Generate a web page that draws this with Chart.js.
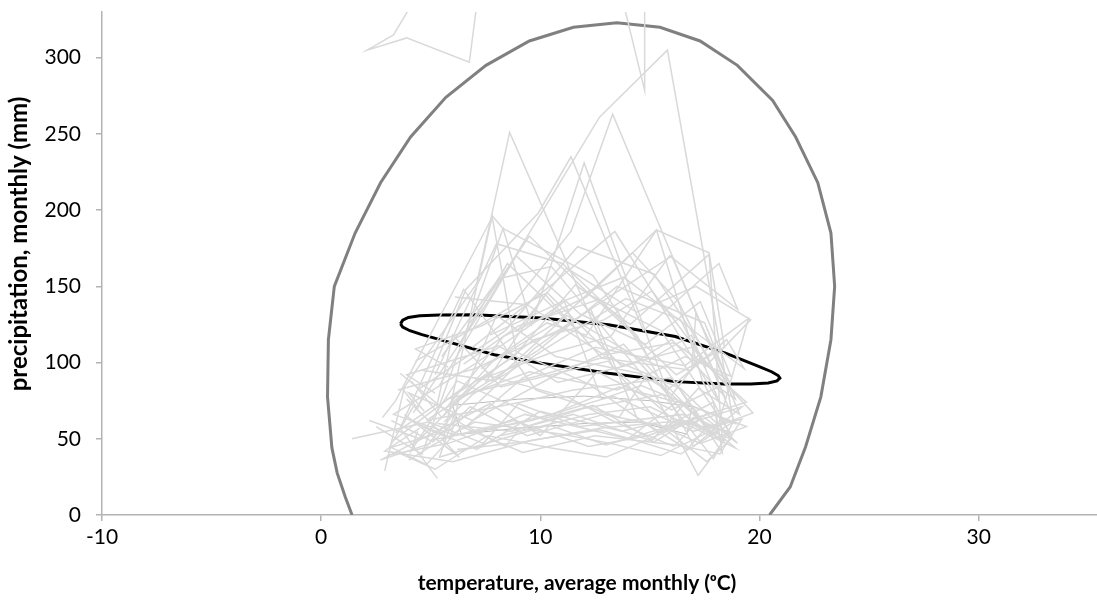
<!DOCTYPE html>
<html>
<head>
<meta charset="utf-8">
<script src="https://cdn.jsdelivr.net/npm/chart.js@4.4.0/dist/chart.umd.min.js"></script>
<style>
  body { margin: 0; background: #fff; }
</style>
</head>
<body>
<canvas id="climateChart" width="1097" height="601"></canvas>
<script>
// axis ticks
var xTicks = [-10, 0, 10, 20, 30];
var yTicks = [0, 50, 100, 150, 200, 250, 300];

// outer envelope (grey, thick)
var envelopeTemp   = [1.41, 1.10, 0.73, 0.49, 0.29, 0.33, 0.6, 1.55, 2.71, 4.08, 5.69, 7.52, 9.50, 11.51, 13.49, 15.46, 17.29, 18.99, 20.6, 21.65, 22.66, 23.26, 23.43, 23.26, 22.8, 22.1, 21.4, 20.46];
var envelopePrecip = [0, 11.8, 27.6, 44, 77.5, 115, 150, 185, 218, 248, 274, 295, 311, 320, 323, 320, 311, 295, 272, 248, 218, 185, 150, 115, 77.5, 44.6, 18.4, 0];

// inner ellipse (black)
var ellipseTemp   = [3.62, 3.72, 3.98, 4.5, 5.4, 6.99, 10.05, 13.11, 16.16, 18.45, 19.99, 20.55, 20.85, 20.93, 20.8, 20.4, 19.6, 18.4, 16.16, 13.11, 10.05, 7.9, 5.46, 4.6, 4.05, 3.72, 3.62];
var ellipsePrecip = [125.4, 127.8, 129.6, 130.7, 131.2, 131.3, 129.2, 124.8, 117.1, 106.2, 97.4, 94.0, 91.5, 89.8, 88.0, 86.6, 85.9, 86.0, 87.5, 93.0, 99.6, 105.1, 114.9, 118.3, 120.9, 123.3, 125.4];

// monthly observations, one row per year (Jan..Dec)
var yearTemps = [
  [3.2, 5.1, 6.8, 9.4, 12.9, 15.7, 17.9, 18.2, 14.6, 11.2, 7.9, 4.6],
  [2.9, 3.8, 7.1, 8.6, 13.3, 16.2, 18.6, 17.4, 15.3, 12.1, 8.3, 5.7],
  [4.4, 4.1, 6.2, 10.1, 12.4, 15.1, 17.2, 19.1, 16.0, 10.8, 7.0, 3.5],
  [1.4, 4.9, 7.4, 9.0, 11.8, 16.5, 18.3, 17.7, 14.1, 11.6, 8.8, 6.0],
  [5.3, 3.6, 6.5, 9.8, 13.6, 14.9, 17.6, 18.8, 15.8, 12.7, 7.6, 4.2],
  [3.9, 5.6, 7.8, 8.9, 12.2, 15.4, 19.2, 17.0, 14.4, 11.0, 8.0, 5.2],
  [4.8, 6.1, 5.4, 10.4, 13.0, 16.8, 18.0, 19.5, 16.6, 12.5, 9.2, 6.6],
  [2.5, 4.6, 8.3, 9.6, 12.0, 15.9, 17.3, 18.5, 13.3, 11.4, 8.6, 4.3],
  [6.2, 3.3, 7.0, 11.1, 12.8, 14.6, 18.9, 17.9, 15.1, 12.9, 9.7, 5.9],
  [3.0, 5.8, 7.2, 9.3, 14.0, 16.3, 17.8, 19.7, 16.9, 13.7, 10.3, 7.5],
  [4.7, 4.0, 6.9, 10.6, 13.8, 17.1, 18.4, 17.2, 14.9, 10.5, 8.1, 5.5],
  [3.6, 6.4, 8.4, 9.1, 11.5, 15.2, 17.0, 18.7, 15.5, 12.3, 9.5, 6.8],
  [5.0, 2.7, 7.7, 10.0, 12.6, 16.0, 18.1, 18.9, 17.5, 13.5, 9.9, 4.9],
  [3.4, 5.3, 6.0, 8.2, 13.1, 15.6, 19.4, 18.0, 16.3, 14.2, 10.8, 7.3],
  [4.2, 3.1, 5.9, 9.7, 12.3, 14.4, 16.7, 17.6, 15.7, 11.9, 8.5, 6.3],
  [2.2, 4.5, 7.5, 11.3, 13.4, 16.1, 17.4, 19.0, 16.4, 13.0, 10.1, 5.7],
  [4.1, 5.5, 7.9, 10.3, 12.1, 15.3, 17.7, 18.4, 16.2, 12.6, 9.0, 6.5],
  [3.7, 4.4, 6.6, 9.9, 11.4, 14.7, 18.15, 19.0, 15.9, 13.2, 10.4, 7.1],
  [5.6, 6.9, 8.7, 10.9, 13.9, 16.4, 17.5, 19.6, 17.1, 14.4, 11.2, 8.9],
  [2.8, 3.4, 7.83, 8.29, 12.4, 15.0, 16.9, 18.2, 15.4, 13.4, 10.6, 6.9],
  [4.6, 5.9, 6.3, 9.5, 13.5, 16.6, 18.7, 17.3, 14.8, 11.8, 8.9, 5.4],
  [3.3, 6.7, 8.0, 10.7, 14.5, 15.8, 18.5, 19.3, 16.7, 13.8, 11.0, 7.7],
  [5.8, 4.3, 7.3, 10.2, 12.8, 16.9, 17.1, 18.6, 16.1, 12.9, 9.4, 6.1],
  [4.0, 5.0, 7.0, 11.0, 13.2, 15.5, 17.9, 18.9, 15.0, 12.2, 10.0, 8.2],
  [3.1, 4.8, 6.4, 9.2, 12.5, 16.2, 18.2, 19.2, 17.0, 13.3, 9.6, 5.0],
  [5.2, 3.9, 8.1, 10.8, 14.2, 16.0, 18.4, 17.6, 15.2, 11.7, 8.4, 4.5],
  [3.5, 5.2, 7.6, 10.5, 13.0, 15.8, 17.6, 18.7, 16.5, 12.8, 9.3, 6.2],
  [4.5, 2.9, 6.0, 9.6, 12.7, 16.4, 18.8, 17.9, 15.6, 12.0, 8.7, 5.3],
  [5.7, 4.2, 7.1, 10.0, 13.7, 15.2, 17.3, 19.4, 16.8, 13.6, 10.5, 7.0],
  [3.8, 6.3, 5.5, 8.8, 12.2, 14.9, 18.0, 18.3, 16.0, 11.5, 9.1, 4.8]
];
var yearPrecip = [
  [62, 48, 71, 52, 66, 58, 74, 49, 102, 131, 88, 95],
  [29, 84, 152, 251, 97, 61, 55, 88, 187, 143, 117, 70],
  [55, 42, 88, 63, 72, 49, 83, 66, 170, 121, 96, 82],
  [50, 61, 47, 73, 58, 66, 49, 171, 125, 151, 104, 78],
  [24, 57, 148, 82, 64, 93, 58, 62, 305, 261, 140, 67],
  [76, 52, 196, 107, 86, 54, 71, 45, 118, 165, 178, 92],
  [45, 67, 38, 59, 46, 62, 53, 129, 98, 110, 90, 58],
  [58, 40, 188, 125, 231, 77, 103, 85, 263, 186, 136, 101],
  [52, 66, 99, 140, 76, 85, 60, 94, 147, 128, 115, 73],
  [39, 47, 54, 66, 50, 75, 57, 67, 110, 98, 146, 87],
  [68, 80, 62, 91, 112, 58, 49, 26, 88, 163, 155, 104],
  [93, 60, 45, 57, 66, 48, 64, 53, 121, 144, 183, 126],
  [47, 36, 73, 52, 94, 69, 84, 76, 126, 150, 108, 63],
  [54, 73, 118, 84, 101, 57, 74, 92, 140, 172, 127, 96],
  [71, 44, 56, 109, 135, 64, 43, 58, 96, 118, 165, 112],
  [62, 50, 92, 77, 61, 45, 65, 47, 83, 104, 92, 76],
  [88, 64, 102, 126, 118, 187, 172, 110, 92, 141, 124, 99],
  [83, 70, 148, 198, 235, 121, 165, 135, 170, 117, 106, 88],
  [61, 79, 95, 115, 142, 128, 97, 128, 150, 133, 162, 120],
  [64, 75, 196, 188, 157, 102, 118, 73, 140, 186, 152, 110],
  [58, 50, 77, 94, 82, 104, 91, 140, 112, 132, 170, 85],
  [49, 86, 131, 104, 93, 82, 115, 96, 124, 156, 140, 118],
  [97, 109, 124, 145, 103, 95, 132, 88, 113, 105, 138, 143],
  [36, 45, 61, 53, 47, 39, 56, 44, 71, 66, 58, 52],
  [45, 33, 58, 41, 52, 46, 40, 63, 55, 78, 62, 49],
  [80, 92, 111, 87, 99, 115, 78, 105, 158, 176, 121, 83],
  [41, 30, 52, 44, 38, 55, 35, 50, 62, 57, 48, 43],
  [57, 42, 35, 49, 56, 40, 61, 37, 79, 70, 55, 60],
  [52, 61, 43, 68, 55, 60, 47, 58, 72, 84, 66, 54],
  [66, 38, 50, 62, 45, 52, 68, 41, 90, 82, 74, 62]
];

// wet spells going off the top of the plot
var spellTemps  = [[5.6, 3.3, 2.1, 3.9, 6.76, 7.6], [12.7, 14.76, 14.76]];
var spellPrecip = [[370, 315, 305, 313, 297, 390], [400, 278.6, 420]];

// long-term monthly mean loop
var meanTemp   = [6.0, 6.4, 9.0, 12.0, 14.5, 16.7, 16.9, 15.0, 12.0, 9.0, 6.0];
var meanPrecip = [72, 53, 57, 60, 61, 53, 71, 75, 78, 76, 72];

function toPoints(xs, ys) {
    var pts = [];
    for (var i = 0; i < xs.length; i++) {
        pts.push({ x: xs[i], y: ys[i] });
    }
    return pts;
}

var datasets = [];
for (var i = 0; i < yearTemps.length; i++) {
    datasets.push({
        data: toPoints(yearTemps[i], yearPrecip[i]),
        borderColor: '#d9d9d9', borderWidth: 1.5, order: 0
    });
}
for (var j = 0; j < spellTemps.length; j++) {
    datasets.push({
        data: toPoints(spellTemps[j], spellPrecip[j]),
        borderColor: '#d9d9d9', borderWidth: 1.5, order: 0
    });
}
datasets.push({ data: toPoints(meanTemp, meanPrecip), borderColor: '#bcbcbc', borderWidth: 1, order: 0 });
datasets.push({ data: toPoints(ellipseTemp, ellipsePrecip), borderColor: '#000000', borderWidth: 3, order: 1 });
datasets.push({ data: toPoints(envelopeTemp, envelopePrecip), borderColor: '#808080', borderWidth: 3, order: 2 });

datasets.forEach(function (d) {
    d.showLine = true;
    d.pointRadius = 0;
    d.tension = 0;
    d.fill = false;
});

var font = 'Lato, "Open Sans", sans-serif';

// axis titles, placed like the original plot
var axisTitles = {
    id: 'axisTitles',
    afterDraw: function (chart) {
        var c = chart.ctx;
        c.save();
        c.fillStyle = '#000';
        c.font = 'bold 21px ' + font;
        c.textAlign = 'center';
        c.textBaseline = 'middle';
        c.fillText('temperature, average monthly (ᵒC)', 577, 583);
        c.translate(19, 244);
        c.rotate(-Math.PI / 2);
        c.font = 'bold 24px ' + font;
        c.fillText('precipitation, monthly (mm)', 0, 0);
        c.restore();
    }
};

var ctx = document.getElementById('climateChart');
var chart = new Chart(ctx, {
    type: 'scatter',
    data: { datasets: datasets },
    plugins: [axisTitles],
    options: {
        responsive: false,
        animation: false,
        layout: { padding: { top: 12, right: 0, left: 0, bottom: 0 } },
        plugins: { legend: { display: false }, tooltip: { enabled: false } },
        scales: {
            x: {
                min: -10, max: 35.4,
                afterBuildTicks: function (s) { s.ticks = xTicks.map(function (v) { return { value: v }; }); },
                afterFit: function (s) { s.height = 86; s.paddingLeft = 0; s.paddingRight = 0; },
                grid: { drawOnChartArea: false, drawTicks: true, tickLength: 6, color: '#b3b3b3', lineWidth: 1.5 },
                border: { color: '#b3b3b3', width: 1.5 },
                ticks: { color: '#000', font: { family: font, size: 21 }, padding: 4, maxRotation: 0 }
            },
            y: {
                min: 0, max: 330,
                afterBuildTicks: function (s) { s.ticks = yTicks.map(function (v) { return { value: v }; }); },
                afterFit: function (s) { s.width = 102; s.paddingTop = 0; s.paddingBottom = 0; },
                grid: { drawOnChartArea: false, drawTicks: true, tickLength: 6, color: '#b3b3b3', lineWidth: 1.5 },
                border: { color: '#b3b3b3', width: 1.5 },
                ticks: { color: '#000', font: { family: font, size: 21 }, padding: 15 }
            }
        }
    }
});
</script>
</body>
</html>
